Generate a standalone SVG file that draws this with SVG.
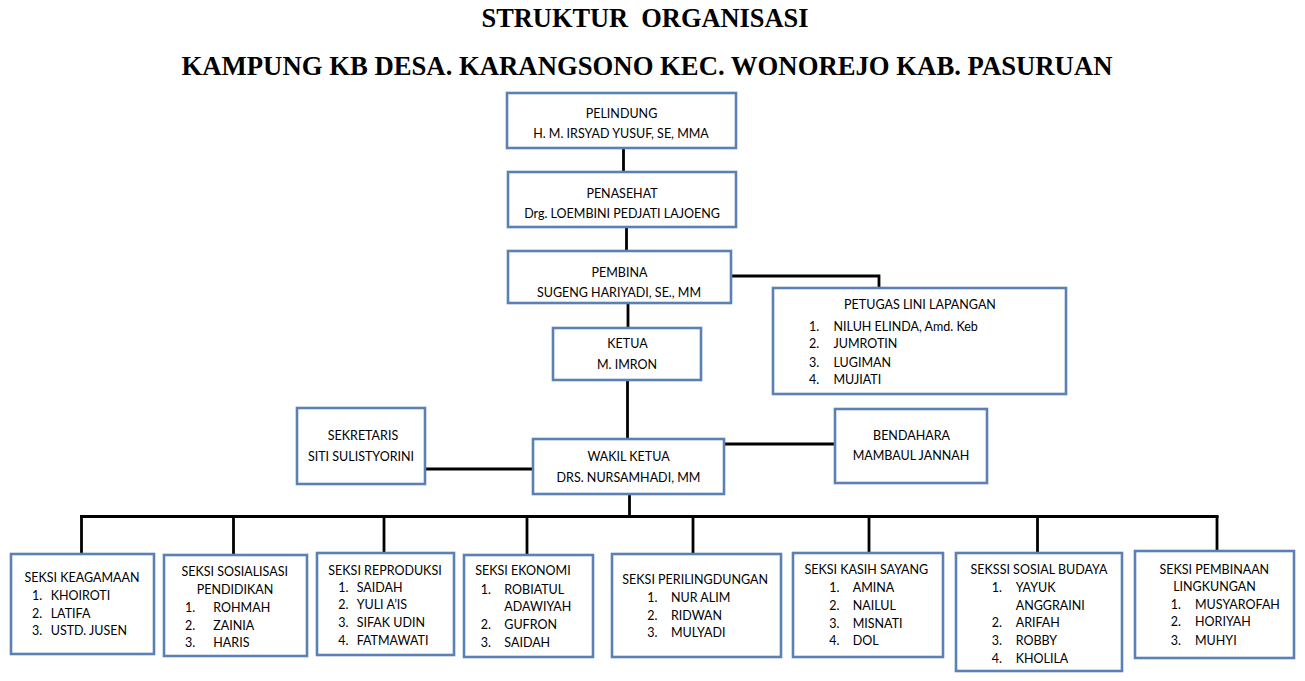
<svg xmlns="http://www.w3.org/2000/svg" width="1305" height="681" viewBox="0 0 1305 681">
<style>
.bg{fill:#ffffff}
.box{fill:#ffffff;stroke:#5b80b4;stroke-width:2.6}
.ln{fill:none;stroke:#000000;stroke-width:2.8}
.t{font-family:Lato,"Open Sans","Liberation Sans",sans-serif;font-size:12.5px;fill:#000000}
.c{text-anchor:middle}
.h{font-family:"Liberation Serif","Times New Roman",serif;font-weight:bold;font-size:26.5px;fill:#000000;text-anchor:middle;white-space:pre}
</style>
<rect class="bg" x="0" y="0" width="1305" height="681"/>
<g id="title">
<text class="h" x="645" y="27" textLength="327" lengthAdjust="spacingAndGlyphs" xml:space="preserve">STRUKTUR  ORGANISASI</text>
<text class="h" x="647" y="75" textLength="931" lengthAdjust="spacingAndGlyphs">KAMPUNG KB DESA. KARANGSONO KEC. WONOREJO KAB. PASURUAN</text>
</g>
<g id="connectors">
<line class="ln" x1="623.5" y1="148" x2="623.5" y2="172"/>
<line class="ln" x1="626.5" y1="227" x2="626.5" y2="251"/>
<polyline class="ln" points="731,276 879,276 879,288"/>
<line class="ln" x1="628" y1="303" x2="628" y2="328"/>
<line class="ln" x1="627.5" y1="380" x2="627.5" y2="439"/>
<line class="ln" x1="425" y1="469" x2="533" y2="469"/>
<line class="ln" x1="724" y1="444" x2="835" y2="444"/>
<line class="ln" x1="629.5" y1="494" x2="629.5" y2="516.5"/>
<line class="ln" x1="80" y1="516.5" x2="1218.5" y2="516.5"/>
<line class="ln" x1="81.5" y1="516" x2="81.5" y2="554"/>
<line class="ln" x1="233.5" y1="516" x2="233.5" y2="555"/>
<line class="ln" x1="384" y1="516" x2="384" y2="553"/>
<line class="ln" x1="527" y1="516" x2="527" y2="555"/>
<line class="ln" x1="693" y1="516" x2="693" y2="554"/>
<line class="ln" x1="869" y1="516" x2="869" y2="553"/>
<line class="ln" x1="1037.5" y1="516" x2="1037.5" y2="553"/>
<line class="ln" x1="1217" y1="516" x2="1217" y2="551"/>
</g>
<g id="pelindung">
<rect class="box" x="507" y="93" width="229" height="55"/>
<text class="t c" x="621.5" y="117.5">PELINDUNG</text>
<text class="t c" x="621" y="137.5">H. M. IRSYAD YUSUF, SE, MMA</text>
</g>
<g id="penasehat">
<rect class="box" x="508" y="172" width="228" height="55"/>
<text class="t c" x="622" y="197.5">PENASEHAT</text>
<text class="t c" x="622" y="217.5">Drg. LOEMBINI PEDJATI LAJOENG</text>
</g>
<g id="pembina">
<rect class="box" x="508" y="251" width="223" height="52"/>
<text class="t c" x="619.5" y="276.5">PEMBINA</text>
<text class="t c" x="619" y="296.5">SUGENG HARIYADI, SE., MM</text>
</g>
<g id="petugas">
<rect class="box" x="773" y="288" width="293" height="106"/>
<text class="t c" x="920" y="309">PETUGAS LINI LAPANGAN</text>
<text class="t" x="809" y="330.5">1.</text><text class="t" x="833.5" y="330.5">NILUH ELINDA, Amd. Keb</text>
<text class="t" x="809" y="348">2.</text><text class="t" x="833.5" y="348">JUMROTIN</text>
<text class="t" x="809" y="366.5">3.</text><text class="t" x="833.5" y="366.5">LUGIMAN</text>
<text class="t" x="809" y="384">4.</text><text class="t" x="833.5" y="384">MUJIATI</text>
</g>
<g id="ketua">
<rect class="box" x="553" y="328" width="148" height="52"/>
<text class="t c" x="627.5" y="348">KETUA</text>
<text class="t c" x="627" y="368.5">M. IMRON</text>
</g>
<g id="sekretaris">
<rect class="box" x="297" y="408" width="128" height="76"/>
<text class="t c" x="363" y="440">SEKRETARIS</text>
<text class="t c" x="361" y="460.5">SITI SULISTYORINI</text>
</g>
<g id="wakil">
<rect class="box" x="533" y="439" width="191" height="55"/>
<text class="t c" x="628.5" y="460.5">WAKIL KETUA</text>
<text class="t c" x="628.5" y="481.5">DRS. NURSAMHADI, MM</text>
</g>
<g id="bendahara">
<rect class="box" x="835" y="409" width="152" height="74"/>
<text class="t c" x="911.5" y="439.5">BENDAHARA</text>
<text class="t c" x="911" y="460">MAMBAUL JANNAH</text>
</g>
<g id="keagamaan">
<rect class="box" x="11" y="554" width="143" height="100"/>
<text class="t c" x="82" y="582">SEKSI KEAGAMAAN</text>
<text class="t" x="32" y="599.7">1.</text><text class="t" x="50.7" y="599.7">KHOIROTI</text>
<text class="t" x="32" y="618">2.</text><text class="t" x="50.7" y="618">LATIFA</text>
<text class="t" x="32" y="635.4">3.</text><text class="t" x="50.7" y="635.4">USTD. JUSEN</text>
</g>
<g id="sosialisasi">
<rect class="box" x="164" y="555" width="143" height="101"/>
<text class="t c" x="234.7" y="575.7">SEKSI SOSIALISASI</text>
<text class="t c" x="235" y="594">PENDIDIKAN</text>
<text class="t" x="185" y="612">1.</text><text class="t" x="213.3" y="612">ROHMAH</text>
<text class="t" x="185" y="629.7">2.</text><text class="t" x="213.3" y="629.7">ZAINIA</text>
<text class="t" x="185" y="647.4">3.</text><text class="t" x="213.3" y="647.4">HARIS</text>
</g>
<g id="reproduksi">
<rect class="box" x="317" y="553" width="137" height="102"/>
<text class="t c" x="385" y="574.7">SEKSI REPRODUKSI</text>
<text class="t" x="338.3" y="592.4">1.</text><text class="t" x="356.7" y="592.4">SAIDAH</text>
<text class="t" x="338.3" y="609.4">2.</text><text class="t" x="356.7" y="609.4">YULI A’IS</text>
<text class="t" x="338.3" y="627.4">3.</text><text class="t" x="356.7" y="627.4">SIFAK UDIN</text>
<text class="t" x="338.3" y="645">4.</text><text class="t" x="356.7" y="645">FATMAWATI</text>
</g>
<g id="ekonomi">
<rect class="box" x="464" y="555" width="129" height="102"/>
<text class="t c" x="523" y="575.4">SEKSI EKONOMI</text>
<text class="t" x="480.7" y="593.7">1.</text><text class="t" x="504.3" y="593.7">ROBIATUL</text>
<text class="t" x="504.3" y="611.4">ADAWIYAH</text>
<text class="t" x="480.7" y="629.4">2.</text><text class="t" x="504.3" y="629.4">GUFRON</text>
<text class="t" x="480.7" y="647.4">3.</text><text class="t" x="504.3" y="647.4">SAIDAH</text>
</g>
<g id="perlindungan">
<rect class="box" x="612" y="554" width="169" height="103"/>
<text class="t c" x="695.2" y="584">SEKSI PERILINGDUNGAN</text>
<text class="t" x="647.3" y="602">1.</text><text class="t" x="671" y="602">NUR ALIM</text>
<text class="t" x="647.3" y="620.4">2.</text><text class="t" x="671" y="620.4">RIDWAN</text>
<text class="t" x="647.3" y="637.4">3.</text><text class="t" x="671" y="637.4">MULYADI</text>
</g>
<g id="kasihsayang">
<rect class="box" x="793" y="553" width="150" height="104"/>
<text class="t c" x="866.3" y="574">SEKSI KASIH SAYANG</text>
<text class="t" x="829.3" y="592">1.</text><text class="t" x="852.7" y="592">AMINA</text>
<text class="t" x="829.3" y="610.2">2.</text><text class="t" x="852.7" y="610.2">NAILUL</text>
<text class="t" x="829.3" y="628">3.</text><text class="t" x="852.7" y="628">MISNATI</text>
<text class="t" x="829.3" y="645.4">4.</text><text class="t" x="852.7" y="645.4">DOL</text>
</g>
<g id="sosialbudaya">
<rect class="box" x="956" y="553" width="166" height="118"/>
<text class="t c" x="1039" y="574">SEKSSI SOSIAL BUDAYA</text>
<text class="t" x="991.7" y="592">1.</text><text class="t" x="1015.7" y="592">YAYUK</text>
<text class="t" x="1015.7" y="609.7">ANGGRAINI</text>
<text class="t" x="991.7" y="627">2.</text><text class="t" x="1015.7" y="627">ARIFAH</text>
<text class="t" x="991.7" y="644.7">3.</text><text class="t" x="1015.7" y="644.7">ROBBY</text>
<text class="t" x="991.7" y="663">4.</text><text class="t" x="1015.7" y="663">KHOLILA</text>
</g>
<g id="pembinaan">
<rect class="box" x="1135" y="551" width="159" height="107"/>
<text class="t c" x="1214.3" y="574">SEKSI PEMBINAAN</text>
<text class="t c" x="1214.5" y="591.4">LINGKUNGAN</text>
<text class="t" x="1170.7" y="609">1.</text><text class="t" x="1195" y="609">MUSYAROFAH</text>
<text class="t" x="1170.7" y="626.4">2.</text><text class="t" x="1195" y="626.4">HORIYAH</text>
<text class="t" x="1170.7" y="644.7">3.</text><text class="t" x="1195" y="644.7">MUHYI</text>
</g>
</svg>
